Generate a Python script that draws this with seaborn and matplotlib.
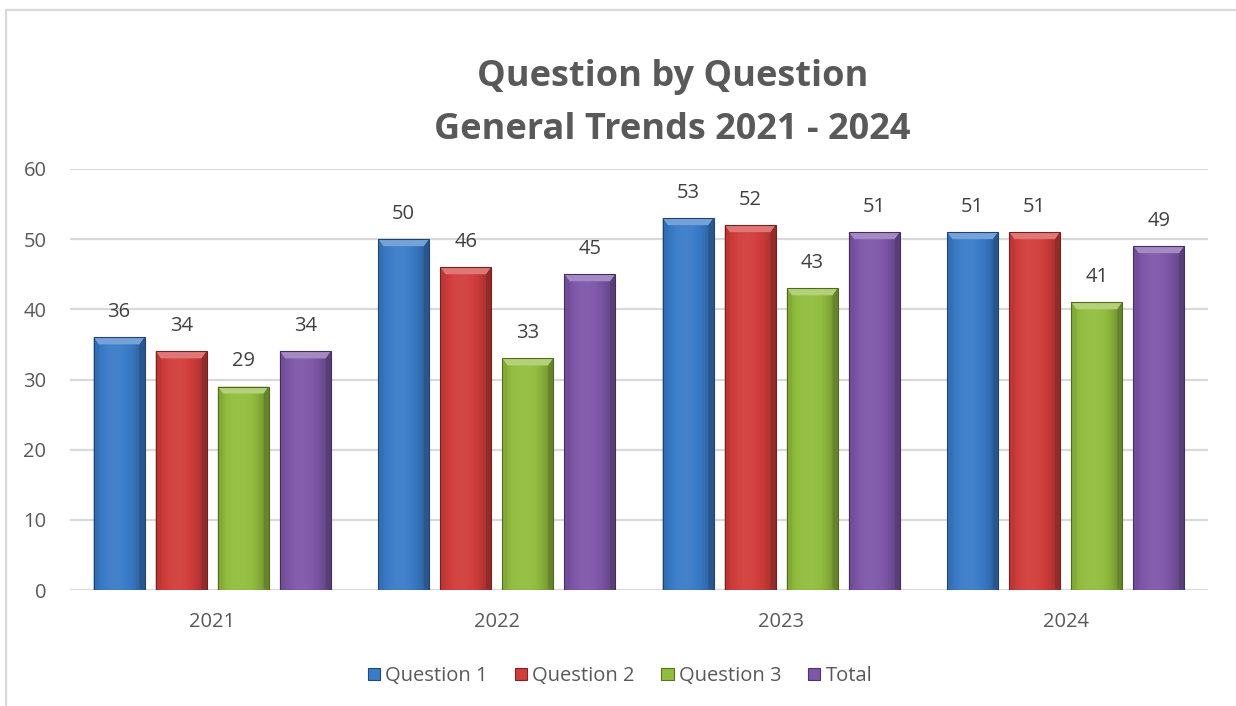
import numpy as np
import pandas as pd
import matplotlib
matplotlib.use("Agg")
import matplotlib.pyplot as plt
import matplotlib.colors as mcolors
import seaborn as sns

# Survey results by year
years = ["2021", "2022", "2023", "2024"]
series_names = ["Question 1", "Question 2", "Question 3", "Total"]
question_1 = [36, 50, 53, 51]
question_2 = [34, 46, 52, 51]
question_3 = [29, 33, 43, 41]
total = [34, 45, 51, 49]

colors = ["#3A7BC8", "#D13D3B", "#92BD3E", "#7E57A9"]
text_gray = "#595959"
grid_gray = "#D9D9D9"

df = pd.DataFrame({
    "Year": np.repeat(years, len(series_names)),
    "Series": series_names * len(years),
    "Value": np.ravel(np.column_stack([question_1, question_2, question_3, total])),
})

sns.set_theme(style="white")
plt.rcParams["font.family"] = ["Open Sans", "DejaVu Sans"]

W, H = 1236, 706
fig = plt.figure(figsize=(W / 100, H / 100), dpi=100)
ax = fig.add_axes([70 / W, 1 - 590 / H, (1208 - 70) / W, (590 - 169) / H])

sns.barplot(data=df, x="Year", y="Value", hue="Series", hue_order=series_names,
            order=years, palette=colors, width=0.873, gap=0.18, saturation=1,
            edgecolor="none", linewidth=0, ax=ax, zorder=3)

ax.set_xlim(-0.5, 3.5)
ax.set_ylim(0, 60)
ax.set_yticks(range(0, 61, 10))
ax.yaxis.grid(True, color=grid_gray, linewidth=1.6, zorder=0)
ax.set_axisbelow(True)
for s in ax.spines.values():
    s.set_visible(False)
ax.set_xlabel("")
ax.set_ylabel("")
ax.tick_params(axis="y", length=0, pad=17, labelsize=14.5, labelcolor=text_gray)
ax.tick_params(axis="x", length=0, pad=16, labelsize=14.5, labelcolor=text_gray)


def shade(c, f):
    r, g, b = mcolors.to_rgb(c)
    if f >= 0:
        return (r + (1 - r) * f, g + (1 - g) * f, b + (1 - b) * f)
    return (r * (1 + f), g * (1 + f), b * (1 + f))


# Bevelled look for each bar, built from the bar geometry
px_x = 5.0 / 284.5          # ~5 px in data units (x)
px_y = 60.0 / 421.0         # 1 px in data units (y)
for container, col in zip(ax.containers, colors):
    for bar in container:
        x0, y0 = bar.get_x(), bar.get_y()
        w, h = bar.get_width(), bar.get_height()
        bar.set_facecolor("none")
        # horizontal gradient: lighter left of centre, darker at the edges
        prof = np.linspace(-1, 1, 64)
        f = -0.26 * np.abs(prof + 0.15) ** 2.2 + 0.05
        img = np.array([[shade(col, v) for v in f]])
        im = ax.imshow(img, extent=(x0, x0 + w, y0, y0 + h), aspect="auto",
                       interpolation="bilinear", zorder=3)
        im.set_clip_path(bar)
        # top bevel
        dy = 7 * px_y
        top = plt.Polygon([(x0, h), (x0 + w, h), (x0 + w - px_x, h - dy), (x0 + px_x, h - dy)],
                          closed=True, facecolor=shade(col, 0.3), edgecolor="none", zorder=4)
        ax.add_patch(top)
        # side bevels
        left = plt.Polygon([(x0, h), (x0 + px_x, h - dy), (x0 + px_x, y0 + dy * 0.3), (x0, y0)],
                           closed=True, facecolor=shade(col, -0.1), edgecolor="none", zorder=4)
        right = plt.Polygon([(x0 + w, h), (x0 + w - px_x, h - dy), (x0 + w - px_x, y0 + dy * 0.3), (x0 + w, y0)],
                            closed=True, facecolor=shade(col, -0.3), edgecolor="none", zorder=4)
        ax.add_patch(left)
        ax.add_patch(right)
        outline = plt.Rectangle((x0, y0), w, h, facecolor="none",
                                edgecolor=shade(col, -0.45), linewidth=0.8, zorder=5)
        ax.add_patch(outline)
    ax.bar_label(container, fmt="%d", padding=11, fontsize=14.5, color="#404040")

ax.set_ylim(0, 60)

# Legend at the bottom
handles = [plt.Rectangle((0, 0), 1, 1, facecolor=c, edgecolor=shade(c, -0.4), linewidth=0.8)
           for c in colors]
leg = ax.get_legend()
if leg is not None:
    leg.remove()
fig.legend(handles, series_names, loc="center", bbox_to_anchor=(0.5016, 1 - 676 / H),
           ncol=4, frameon=False, fontsize=14.5, labelcolor=text_gray,
           handlelength=0.6, handleheight=0.6, handletextpad=0.25, columnspacing=1.35)

# Title
fig.text(0.544, 1 - 77 / H, "Question by Question", ha="center", va="center",
         fontsize=26, fontweight="bold", color=text_gray)
fig.text(0.544, 1 - 130 / H, "General Trends 2021 - 2024", ha="center", va="center",
         fontsize=26, fontweight="bold", color=text_gray)

# Chart area border (left and top edges)
fig.add_artist(plt.Line2D([6 / W, 6 / W], [0, 1 - 10 / H], transform=fig.transFigure,
                          color=grid_gray, linewidth=1.6))
fig.add_artist(plt.Line2D([6 / W, 1], [1 - 10 / H, 1 - 10 / H], transform=fig.transFigure,
                          color=grid_gray, linewidth=1.6))

fig.savefig("out.png", dpi=100, facecolor="white")
